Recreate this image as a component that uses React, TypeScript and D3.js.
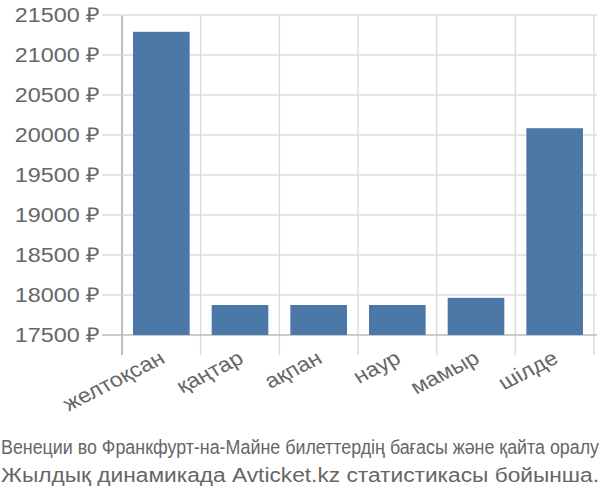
import * as d3 from "d3";

const months = ["желтоқсан", "қаңтар", "ақпан", "наур", "мамыр", "шілде"];
const prices = [21290, 17875, 17875, 17875, 17965, 20085];
const yTicks = [17500, 18000, 18500, 19000, 19500, 20000, 20500, 21000, 21500];
const titleLines = [
  "Венеции во Франкфурт-на-Майне билеттердің бағасы және қайта оралу",
  "Жылдық динамикада Avticket.kz статистикасы бойынша.",
];

const W = 600;
const H = 500;
const left = 122;
const right = 594;
const top = 15;
const bottom = 335;
const font = "'Liberation Sans', Arial, sans-serif";
const sx = 1.14; // текст в оригинале растянут по горизонтали

export default function App() {
  const x = d3
    .scaleBand<string>()
    .domain(months)
    .range([left, right])
    .paddingInner(0.28)
    .paddingOuter(0.14);
  const y = d3.scaleLinear().domain([17500, 21500]).range([bottom, top]);

  // границы полос для вертикальной сетки
  const edges = months.map((m) => (x(m) as number) - x.step() * 0.14).concat([right]);

  return (
    <svg width={W} height={H} style={{ position: "absolute", left: 0, top: 0 }}>
      <rect width={W} height={H} fill="#fff" />
      {edges.map((e, i) => (
        <line key={"v" + i} x1={e} x2={e} y1={top} y2={355} stroke={i === 0 ? "#aaa" : "#ddd"} strokeWidth={1.5} />
      ))}
      {yTicks.map((t) => (
        <g key={t}>
          <line x1={102} x2={597} y1={y(t)} y2={y(t)} stroke={t === 17500 ? "#bbb" : "#ddd"} strokeWidth={1.5} />
          <text
            transform={`translate(100,${y(t)}) scale(${sx},1)`}
            dy="0.36em"
            textAnchor="end"
            fontFamily={font}
            fontSize={20.5}
            fill="#666"
          >
            {t} ₽
          </text>
        </g>
      ))}
      {months.map((m, i) => (
        <rect
          key={m}
          x={x(m)}
          y={y(prices[i])}
          width={x.bandwidth()}
          height={bottom - y(prices[i])}
          fill="#4c78a8"
        />
      ))}
      {months.map((m) => {
        const cx = (x(m) as number) + x.bandwidth() / 2;
        return (
          <text
            key={"l" + m}
            transform={`translate(${cx + 5},${362}) scale(${sx},1) rotate(-30)`}
            textAnchor="end"
            fontFamily={font}
            fontSize={20.5}
            fill="#666"
          >
            {m}
          </text>
        );
      })}
      <text x={1} y={454} fontFamily={font} fontSize={20} fill="#666" textLength={598} lengthAdjust="spacingAndGlyphs">
        {titleLines[0]}
      </text>
      <text x={1} y={482} fontFamily={font} fontSize={20} fill="#666" textLength={598} lengthAdjust="spacingAndGlyphs">
        {titleLines[1]}
      </text>
    </svg>
  );
}
